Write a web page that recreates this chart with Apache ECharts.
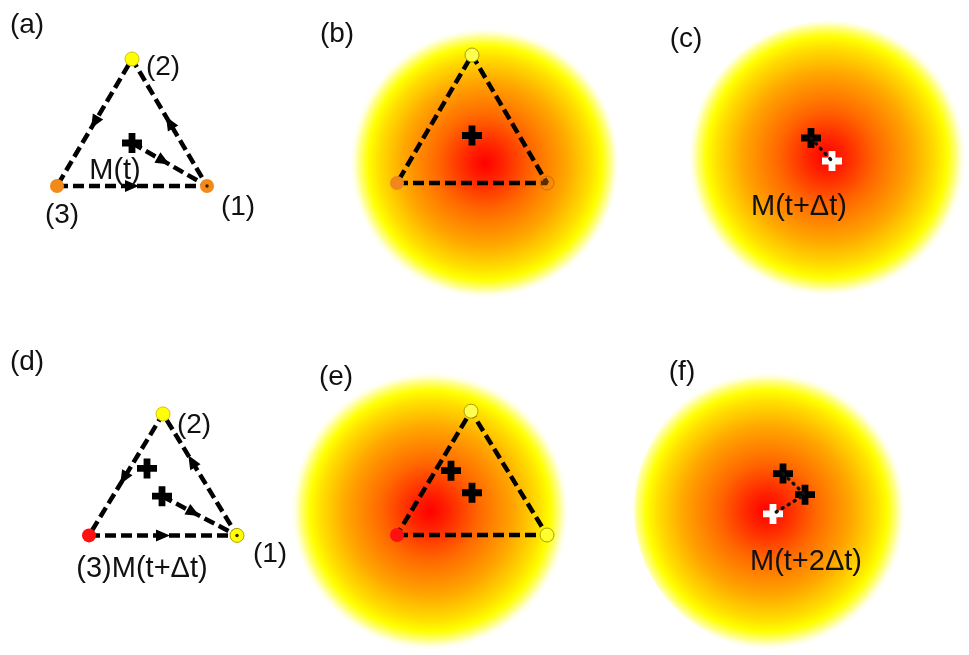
<!DOCTYPE html>
<html><head><meta charset="utf-8">
<script src="https://cdn.jsdelivr.net/npm/echarts@6/dist/echarts.min.js"></script>
<style>html,body{margin:0;padding:0;background:#fff}#chart{width:969px;height:655px}</style>
</head><body><div id="chart"></div>
<script>
// ---------- data (panel units; vertex order: (1), (2), (3)) ----------
const vertsA = [[3, 0], [1.5, 2.54], [0, 0]];
const vertsB = [[3, 0], [1.5, 2.56], [0, 0]];
const vertsD = [[2.96, 0], [1.48, 2.54], [0, 0]];
const vertsE = [[3, 0], [1.48, 2.58], [0, 0]];

const centroidsA = [[1.5, 0.86]];
const centroidsB = [[1.5, 0.95]];
const centroidsC = [[1.84, 0.9]];
const centroidsD = [[1.16, 1.4], [1.46, 0.82]];
const centroidsE = [[1.08, 1.34], [1.5, 0.88]];
const centroidsF = [[1.28, 1.28], [1.72, 0.84]];

const newPointC = [[2.26, 0.44]];
const newPointF = [[1.08, 0.44]];

// objective field: [cx, cy, radius, hotX, hotY]
const fieldB = [1.7, 0.4, 2.72, 1.76, 0.4];
const fieldC = [2.2, 0.44, 2.8, 2.16, 0.52];
const fieldE = [0.66, 0.52, 2.8, 0.66, 0.5];
const fieldF = [1.1, 0.54, 2.8, 0.96, 0.5];

// arrow positions along segments (fraction of segment)
const arrowFracA = [0.5, 0.5, 0.5, 0.42];   // (2)->(3), (1)->(2), (3)->(1), M->(1)
const arrowFracD = [0.53, 0.61, 0.5, 0.42];

// text labels [x, y, text]
const labelsA = [[-0.6, 3.22, '(a)'], [2.12, 2.38, '(2)'], [3.62, -0.42, '(1)'], [0.1, -0.58, '(3)'], [1.16, 0.3, 'M(t)']];
const labelsB = [[-1.2, 2.98, '(b)']];
const labelsC = [[-0.66, 2.88, '(c)'], [1.6, -0.48, 'M(t+Δt)']];
const labelsD = [[-1.24, 3.62, '(d)'], [2.1, 2.3, '(2)'], [1.06, -0.7, '(3)M(t+Δt)'], [3.62, -0.4, '(1)']];
const labelsE = [[-1.22, 3.28, '(e)']];
const labelsF = [[-0.74, 3.4, '(f)'], [1.74, -0.56, 'M(t+2Δt)']];

// ---------- styles / layout ----------
const FONT = "'Liberation Sans', Arial, sans-serif";
const PLUS = 'path://M33,0H67V33H100V67H67V100H33V67H0V33H33Z';
const ORANGE = '#f28a1a', YEL = '#ffff00', RED = '#ff1010';
const vStyleA = [{color: ORANGE}, {color: YEL, borderColor: '#d0c400', borderWidth: 1}, {color: ORANGE}];
const vStyleB = [{color: 'rgba(240,130,20,0.35)', borderColor: '#c87000', borderWidth: 1}, {color: '#ffff50', borderColor: '#a8a000', borderWidth: 1}, {color: '#f0861c'}];
const vStyleD = [{color: YEL, borderColor: '#b0a000', borderWidth: 1}, {color: YEL, borderColor: '#d0c400', borderWidth: 1}, {color: RED}];
const vStyleE = [{color: '#ffff30', borderColor: '#a8a000', borderWidth: 1}, {color: '#ffff50', borderColor: '#a8a000', borderWidth: 1}, {color: RED}];

const gridPos = {
  a: {left: 7, top: 11}, b: {left: 347, top: 8}, c: {left: 669, top: 8},
  d: {left: 39, top: 368}, e: {left: 347, top: 367}, f: {left: 669, top: 367}
};

function closed(v) { return [v[2], v[0], v[1], v[2]]; }
function arrowPts(v, c, fr) {
  const segs = [[v[1], v[2]], [v[0], v[1]], [v[2], v[0]], [c, v[0]]];
  return segs.map((s, i) => {
    const p = s[0], q = s[1], f = fr[i];
    const ang = Math.atan2(q[1] - p[1], q[0] - p[0]) * 180 / Math.PI;
    return {value: [p[0] + (q[0] - p[0]) * f, p[1] + (q[1] - p[1]) * f], symbolRotate: ang - 90};
  });
}

const panels = [
  {id: 'a', verts: vertsA, vStyle: vStyleA, dot: true, centroids: centroidsA,
   paths: [closed(vertsA), [centroidsA[0], vertsA[0]]], arrows: arrowPts(vertsA, centroidsA[0], arrowFracA), labels: labelsA},
  {id: 'b', verts: vertsB, vStyle: vStyleB, centroids: centroidsB, field: fieldB,
   paths: [closed(vertsB)], labels: labelsB},
  {id: 'c', centroids: centroidsC, newPt: newPointC, field: fieldC,
   dotted: [centroidsC[0], newPointC[0]], labels: labelsC},
  {id: 'd', verts: vertsD, vStyle: vStyleD, dot: true, centroids: centroidsD,
   paths: [closed(vertsD), [centroidsD[1], vertsD[0]]], arrows: arrowPts(vertsD, centroidsD[1], arrowFracD), labels: labelsD},
  {id: 'e', verts: vertsE, vStyle: vStyleE, centroids: centroidsE, field: fieldE,
   paths: [closed(vertsE)], labels: labelsE},
  {id: 'f', centroids: centroidsF, newPt: newPointF, field: fieldF,
   dotted: [centroidsF[0], centroidsF[1], newPointF[0]], labels: labelsF}
];

const STOPS = [
  {offset: 0, color: '#ff0000'},
  {offset: 0.12, color: '#ff2000'},
  {offset: 0.35, color: '#ff6800'},
  {offset: 0.6, color: '#ffa600'},
  {offset: 0.78, color: '#ffdf00'},
  {offset: 0.86, color: '#ffff00'},
  {offset: 0.93, color: '#ffff90'},
  {offset: 1, color: 'rgba(255,255,255,0)'}
];

const grid = [], xAxis = [], yAxis = [], series = [];
panels.forEach((p, i) => {
  grid.push({left: gridPos[p.id].left, top: gridPos[p.id].top, width: 300, height: 300});
  xAxis.push({type: 'value', gridIndex: i, min: -1, max: 5, show: false});
  yAxis.push({type: 'value', gridIndex: i, min: -2.5, max: 3.5, show: false});
  const base = {xAxisIndex: i, yAxisIndex: i, animation: false, silent: true, clip: false};
  if (p.field) {
    series.push(Object.assign({}, base, {
      type: 'custom', z: 1, data: [p.field],
      renderItem: function (params, api) {
        const c = api.coord([api.value(0), api.value(1)]);
        const r = api.size([api.value(2), 0])[0];
        const h = api.coord([api.value(3), api.value(4)]);
        const gx = 0.5 + (h[0] - c[0]) / (2 * r), gy = 0.5 + (h[1] - c[1]) / (2 * r);
        return {type: 'circle', shape: {cx: c[0], cy: c[1], r: r},
          style: {fill: new echarts.graphic.RadialGradient(gx, gy, 0.5, STOPS)}};
      }
    }));
  }
  (p.paths || []).forEach(path => {
    series.push(Object.assign({}, base, {
      type: 'line', z: 3, data: path, symbol: 'none',
      lineStyle: {color: '#000', width: 4.5, type: [11, 5]}
    }));
  });
  if (p.dotted) {
    series.push(Object.assign({}, base, {
      type: 'line', z: 6, data: p.dotted, symbol: 'none',
      lineStyle: {color: '#111', width: 3.5, type: [1, 6], cap: 'round'}
    }));
  }
  if (p.verts) {
    series.push(Object.assign({}, base, {
      type: 'scatter', z: 4, symbol: 'circle', symbolSize: 14,
      itemStyle: {opacity: 1},
      data: p.verts.map((v, k) => ({value: v, itemStyle: Object.assign({opacity: 1}, p.vStyle[k])}))
    }));
    if (p.dot) {
      series.push(Object.assign({}, base, {
        type: 'scatter', z: 5, symbol: 'circle', symbolSize: 3.5,
        itemStyle: {color: '#332200', opacity: 1}, data: [p.verts[0]]
      }));
    }
  }
  if (p.arrows) {
    series.push(Object.assign({}, base, {
      type: 'scatter', z: 4, symbol: 'triangle', symbolSize: [12, 14],
      itemStyle: {color: '#000', opacity: 1}, data: p.arrows
    }));
  }
  series.push(Object.assign({}, base, {
    type: 'scatter', z: 5, symbol: PLUS, symbolSize: 20,
    itemStyle: {color: '#000', opacity: 1}, data: p.centroids
  }));
  if (p.newPt) {
    series.push(Object.assign({}, base, {
      type: 'scatter', z: 5, symbol: PLUS, symbolSize: 20,
      itemStyle: {color: '#fff', opacity: 1}, data: p.newPt
    }));
  }
  series.push(Object.assign({}, base, {
    type: 'scatter', z: 7, symbolSize: 1, itemStyle: {color: 'rgba(0,0,0,0)', opacity: 1},
    data: p.labels.map(l => ({value: [l[0], l[1]], name: l[2]})),
    label: {show: true, position: 'inside', formatter: '{b}', color: '#111',
      fontFamily: FONT, fontSize: l => 28}
  }));
  series[series.length - 1].label.fontSize = 28;
  series[series.length - 1].data.forEach(d => {
    if (d.name.indexOf('M') >= 0) d.label = {fontSize: 29};
  });
});

const chart = echarts.init(document.getElementById('chart'), null, {renderer: 'canvas'});
chart.setOption({backgroundColor: '#fff', animation: false, grid, xAxis, yAxis, series});
</script></body></html>
